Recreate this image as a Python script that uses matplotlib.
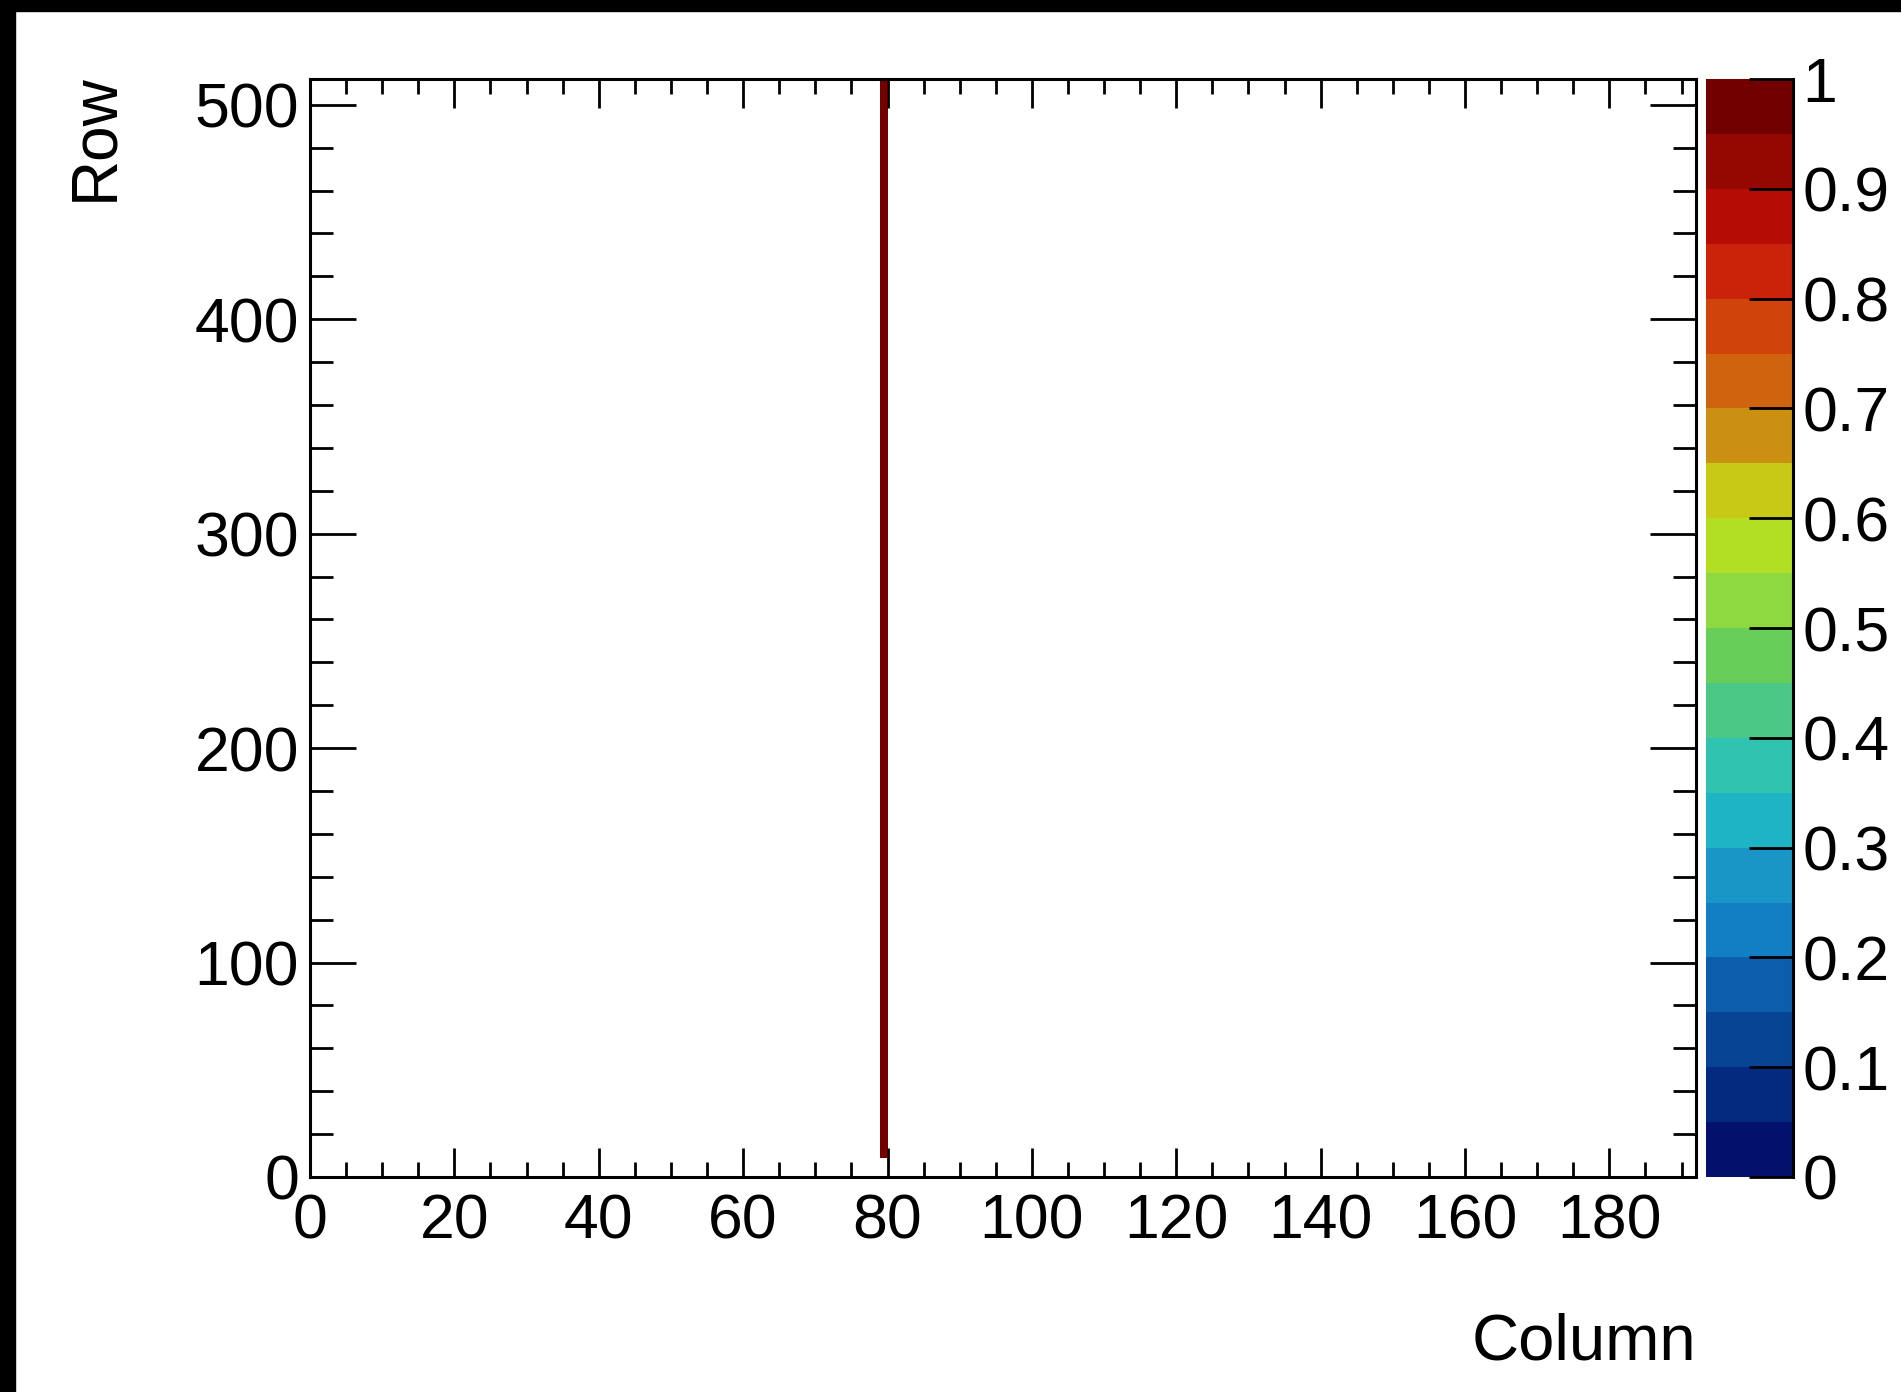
import numpy as np
import matplotlib
matplotlib.use("Agg")
import matplotlib.pyplot as plt
from matplotlib.colors import ListedColormap, BoundaryNorm
from matplotlib.ticker import MultipleLocator, FuncFormatter

# Hit map data: one fired column over most of the rows
n_columns = 192
n_rows = 512
hit_column = 79
first_hit_row = 9
last_hit_row = 511
hit_value = 1.0

# Palette (bottom to top, 20 levels between 0 and 1)
palette_colors = [
    "#03116c", "#042a80", "#084494", "#0c5eac", "#127ec4",
    "#1a96c6", "#1eb4c6", "#30c4b0", "#4cc886", "#68ce5a",
    "#8ed840", "#b2de24", "#c8c816", "#cb9012", "#d0640e",
    "#d0440c", "#cb220a", "#b50c06", "#940800", "#720000",
]
z_min, z_max = 0.0, 1.0

x_label = "Column"
y_label = "Row"


def build_map():
    hits = np.zeros((n_rows, n_columns))
    hits[first_hit_row:last_hit_row + 1, hit_column] = hit_value
    return np.ma.masked_equal(hits, 0.0)


def main():
    plt.rcParams["font.family"] = ["Liberation Sans", "DejaVu Sans"]
    W, H = 1901, 1392
    fig = plt.figure(figsize=(W / 100, H / 100), dpi=100)

    # black window frame on top and left
    fig.patches.append(plt.Rectangle((0, 1 - 11 / H), 1, 11 / H, transform=fig.transFigure,
                                     color="black", zorder=0))
    fig.patches.append(plt.Rectangle((0, 0), 15 / W, 1, transform=fig.transFigure,
                                     color="black", zorder=0))

    ax = fig.add_axes([310 / W, 1 - 1177 / H, (1696 - 310) / W, (1177 - 79) / H])
    cax = fig.add_axes([1706 / W, 1 - 1177 / H, (1793 - 1706) / W, (1177 - 79) / H])

    cmap = ListedColormap(palette_colors)
    levels = np.linspace(z_min, z_max, len(palette_colors) + 1)
    norm = BoundaryNorm(levels, cmap.N)

    hits = build_map()
    mesh = ax.pcolormesh(np.arange(n_columns + 1), np.arange(n_rows + 1), hits,
                         cmap=cmap, norm=norm)
    ax.set_xlim(0, n_columns)
    ax.set_ylim(0, n_rows)

    for s in ax.spines.values():
        s.set_linewidth(2.2)

    ax.xaxis.set_major_locator(MultipleLocator(20))
    ax.xaxis.set_minor_locator(MultipleLocator(5))
    ax.yaxis.set_major_locator(MultipleLocator(100))
    ax.yaxis.set_minor_locator(MultipleLocator(20))
    ax.tick_params(axis="both", which="both", direction="in", top=True, right=True,
                   width=2, labelsize=45)
    ax.tick_params(axis="x", which="major", length=21, pad=11)
    ax.tick_params(axis="x", which="minor", length=10.5)
    ax.tick_params(axis="y", which="major", length=33, pad=8)
    ax.tick_params(axis="y", which="minor", length=16.5)

    fig.text(1696 / W, 1 - 1360 / H, x_label, fontsize=47, ha="right", va="baseline")
    fig.text(112 / W, 1 - 73 / H, y_label, fontsize=46, ha="right", va="baseline",
             rotation=90, rotation_mode="anchor")

    cb = fig.colorbar(mesh, cax=cax, ticks=np.linspace(z_min, z_max, 11))
    cb.outline.set_visible(False)
    cax.spines["right"].set_visible(True)
    cax.spines["right"].set_linewidth(2.2)
    cax.yaxis.set_major_formatter(FuncFormatter(lambda v, p: f"{v:g}"))
    cax.minorticks_off()
    cax.tick_params(axis="y", which="major", direction="in", length=32, width=2,
                    labelsize=45, pad=7, right=True, left=False)

    fig.savefig("out.png", dpi=100)
    plt.close(fig)


if __name__ == "__main__":
    main()
